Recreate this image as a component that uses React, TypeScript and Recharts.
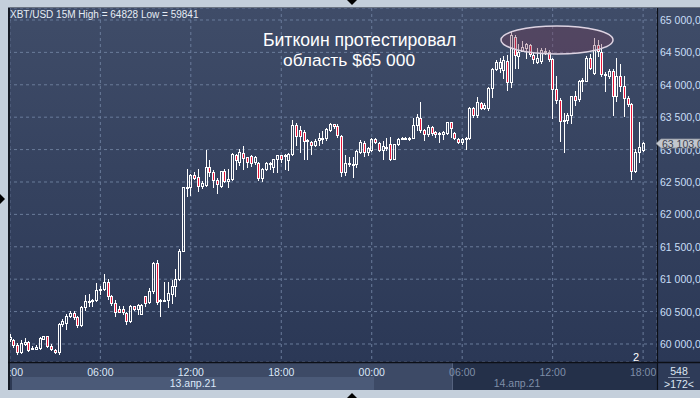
import React from "react";
import { ComposedChart, Bar, XAxis, YAxis, CartesianGrid } from "recharts";

const opens = [
  60070, 60056, 59980, 59870, 60000, 60030, 59930, 59925, 59940, 60080, 60118, 59975, 59910, 59877, 60310, 60325, 60437, 60478, 60410, 60288,
  60565, 60658, 60668, 60678, 60832, 60853, 60950, 60740, 60638, 60545, 60545, 60480, 60350, 60580, 60540, 60470, 60735, 60650, 60822, 61250,
  60660, 60663, 60684, 60776, 60890, 61002, 61440, 62414, 62418, 62615, 62573, 62444, 62454, 62724, 62652, 62537, 62444, 62662, 62522, 62548,
  62922, 62808, 62948, 62886, 62896, 62808, 62798, 62558, 62704, 62780, 62730, 62850, 62912, 62900, 62834, 62938, 63380, 63302, 63276, 63135,
  63120, 63078, 63150, 63160, 63172, 63300, 63390, 63370, 63214, 62652, 62770, 62780, 62783, 62964, 63100, 62970, 62990, 63165, 63100, 63000,
  63030, 63083, 62860, 63083, 63170, 63180, 63186, 63186, 63376, 63495, 63300, 63248, 63350, 63273, 63248, 63248, 63258, 63423, 63258, 63170,
  63120, 63170, 63186, 63635, 63530, 63720, 63635, 63640, 63944, 64238, 64260, 64229, 64368, 64049, 64743, 64443, 64520, 64572, 64610, 64460,
  64355, 64366, 64520, 64510, 64391, 63942, 63771, 63445, 63460, 63540, 63823, 63780, 64055, 64066, 64417, 64185, 64614, 64500, 64150, 64133,
  64210, 63823, 64133, 63978, 63797, 63704, 62670, 62960, 63000,
];
const highs = [
  60150, 60080, 60015, 60067, 60087, 60040, 59975, 59985, 60108, 60130, 60120, 60005, 59925, 60325, 60385, 60460, 60514, 60504, 60427, 60580,
  60755, 60770, 60688, 60940, 60900, 61085, 61005, 60760, 60680, 60585, 60590, 60490, 60600, 60590, 60615, 60610, 60745, 60865, 61270, 61300,
  60690, 60956, 60956, 60992, 61157, 61465, 62430, 62707, 62625, 62655, 62700, 62520, 63000, 62834, 62678, 62560, 62672, 62700, 62700, 62948,
  62938, 63005, 63052, 62886, 62912, 62900, 62808, 62710, 62810, 62808, 62860, 62922, 62922, 62928, 62948, 63458, 63406, 63364, 63302, 63160,
  63130, 63156, 63250, 63290, 63328, 63406, 63400, 63390, 63224, 62912, 62886, 62880, 63000, 63145, 63140, 63040, 63175, 63180, 63110, 63130,
  63185, 63190, 63093, 63186, 63200, 63196, 63196, 63495, 63547, 63738, 63325, 63376, 63360, 63280, 63273, 63284, 63430, 63430, 63273, 63180,
  63186, 63200, 63660, 63660, 63815, 63738, 63712, 63970, 64255, 64380, 64410, 64450, 64460, 64828, 64770, 64624, 64675, 64650, 64624, 64495,
  64562, 64572, 64572, 64531, 64417, 64133, 63797, 63565, 63565, 63830, 63900, 64081, 64107, 64443, 64480, 64727, 64686, 64624, 64200, 64236,
  64236, 64417, 64314, 64133, 63823, 63720, 63010, 63425, 63120,
];
const lows = [
  60050, 59960, 59841, 59860, 59990, 59897, 59925, 59915, 59925, 60070, 59960, 59900, 59860, 59850, 60272, 60236, 60416, 60385, 60262, 60272,
  60530, 60590, 60590, 60668, 60777, 60840, 60700, 60600, 60437, 60487, 60457, 60314, 60335, 60530, 60462, 60460, 60590, 60632, 60785, 60622,
  60427, 60658, 60570, 60632, 60745, 60992, 61430, 62288, 62300, 62553, 62366, 62400, 62444, 62600, 62418, 62330, 62418, 62496, 62418, 62532,
  62700, 62756, 62700, 62730, 62750, 62780, 62538, 62522, 62678, 62704, 62652, 62652, 62808, 62700, 62678, 62922, 63068, 62964, 62860, 62850,
  62938, 63052, 63068, 63094, 63146, 63286, 63340, 63198, 62590, 62603, 62746, 62580, 62730, 62948, 62900, 62910, 62980, 63100, 62975, 62860,
  62990, 62845, 62850, 63067, 63160, 63170, 63150, 63175, 63300, 63273, 63145, 63206, 63222, 63200, 63120, 63170, 63240, 63200, 63170, 63100,
  63093, 63015, 63170, 63505, 63505, 63620, 63620, 63610, 63815, 64228, 64200, 64100, 63920, 63970, 64262, 64262, 64520, 64417, 64443, 64340,
  64340, 64340, 64470, 64366, 63487, 63720, 63125, 62960, 63410, 63410, 63693, 63755, 63900, 64055, 64236, 64170, 64443, 64133, 63900, 64107,
  63528, 63745, 63900, 63513, 63677, 62542, 62660, 62815, 62985,
];
const closes = [
  60110, 59980, 59877, 60015, 60030, 59913, 59935, 59955, 60090, 60118, 59965, 59915, 59877, 60310, 60350, 60437, 60478, 60410, 60288, 60565,
  60658, 60668, 60678, 60838, 60853, 60950, 60740, 60628, 60500, 60500, 60495, 60350, 60580, 60540, 60600, 60600, 60630, 60822, 61250, 60643,
  60680, 60684, 60786, 60890, 61002, 61440, 62418, 62420, 62615, 62563, 62444, 62480, 62724, 62652, 62537, 62470, 62662, 62522, 62548, 62938,
  62834, 62964, 62870, 62808, 62798, 62886, 62558, 62704, 62798, 62798, 62850, 62912, 62850, 62922, 62938, 63380, 63214, 63214, 63130, 63150,
  63078, 63130, 63172, 63172, 63317, 63390, 63364, 63224, 62652, 62790, 62798, 62785, 62979, 63119, 62970, 63030, 63165, 63120, 62990, 63060,
  63035, 62860, 63083, 63170, 63186, 63186, 63160, 63376, 63505, 63300, 63237, 63350, 63258, 63237, 63258, 63273, 63423, 63330, 63186, 63120,
  63170, 63186, 63635, 63530, 63727, 63635, 63686, 63944, 64238, 64357, 64350, 64383, 64049, 64769, 64459, 64510, 64583, 64634, 64470, 64400,
  64417, 64531, 64527, 64391, 63942, 63771, 63445, 63460, 63540, 63823, 63771, 64055, 64081, 64417, 64262, 64614, 64520, 64160, 64170, 64210,
  63823, 64133, 63978, 63797, 63704, 62670, 62970, 63036, 63103,
];

const xTickIndex = [0, 24, 48, 72, 96, 120, 144, 168];
const xTickLabels = ["00:00", "06:00", "12:00", "18:00", "00:00", "06:00", "12:00", "18:00"];
const yTicks = [60000, 60500, 61000, 61500, 62000, 62500, 63000, 63500, 64000, 64500, 65000];
const dateLabels = ["13.апр.21", "14.апр.21"];
const lastPrice = 63103;

const data = opens.map((o, i) => ({ i, open: o, high: highs[i], low: lows[i], close: closes[i] }));

const FONT = "'Liberation Sans', Arial, sans-serif";

const Candle = (props: any) => {
  const { x, y, width, height, payload } = props;
  if (!payload) return null;
  const { open, close, high, low } = payload;
  const yt = Math.min(y, y + height);
  const h = Math.abs(height);
  const ratio = h / (high - low || 1);
  const c = Math.floor(x + width / 2);
  const yOf = (p: number) => yt + (high - p) * ratio;
  const yHigh = Math.round(yt);
  const yLow = Math.round(yt + h);
  const top = Math.round(yOf(Math.max(open, close)));
  const bot = Math.max(Math.round(yOf(Math.min(open, close))), top + 1);
  const up = close >= open;
  return (
    <g>
      <line x1={c + 0.5} x2={c + 0.5} y1={yHigh} y2={top} stroke="#ffffff" strokeWidth={1} />
      <line x1={c + 0.5} x2={c + 0.5} y1={bot + 1} y2={yLow + 1} stroke="#ffffff" strokeWidth={1} />
      <rect x={c - 0.5} y={top + 0.5} width={2} height={bot - top} fill={up ? "none" : "#e8163a"} stroke="#ffffff" strokeWidth={1} />
    </g>
  );
};

const fmtY = (v: number) => `${Math.floor(v / 1000)} ${String(v % 1000).padStart(3, "0")},00`;

const YTick = (props: any) => {
  const { y, payload } = props;
  return (
    <text x={660} y={y + 4} fill="#c9def6" fontSize={10.5} fontFamily={FONT}>
      {fmtY(payload.value)}
    </text>
  );
};

const XTick = (props: any) => {
  const { x, payload } = props;
  const k = xTickIndex.indexOf(payload.value);
  const gray = k >= 5;
  return (
    <text x={x} y={376} textAnchor="middle" fill={gray ? "#7f8ea8" : "#dce8f8"} fontSize={10.5} fontFamily={FONT}>
      {xTickLabels[k]}
    </text>
  );
};

export default function App() {
  return (
    <div style={{ position: "absolute", left: 0, top: 0, width: 700, height: 398, background: "#c4cfdb", overflow: "hidden" }}>
      <svg width={700} height={398} style={{ position: "absolute", left: 0, top: 0 }}>
        <defs>
          <linearGradient id="bg" x1="0" y1="0" x2="0" y2="1">
            <stop offset="0" stopColor="#3f4c68" />
            <stop offset="1" stopColor="#2b3856" />
          </linearGradient>
        </defs>
        <rect x={8} y={8} width={692} height={354} fill="url(#bg)" />
        <rect x={8} y={362} width={444} height={15} fill="#3d4a66" />
        <rect x={452} y={362} width={205} height={28} fill="#243049" />
        <rect x={657} y={362} width={43} height={28} fill="#2e3b58" />
        <rect x={8} y={377} width={4} height={13} fill="#2d3953" />
        <rect x={12} y={377} width={362} height={13} fill="#4b5a78" />
        <rect x={374} y={377} width={78} height={13} fill="#3d4a66" />
        <line x1={452.5} x2={452.5} y1={363} y2={390} stroke="#55627e" />
      </svg>
      <div style={{ position: "absolute", left: 0, top: 0 }}>
        <ComposedChart width={700} height={398} data={data} margin={{ top: 8, right: 0, bottom: 0, left: 8 }} barCategoryGap={0}>
          <CartesianGrid stroke="#6a7b9a" strokeDasharray="3 3" />
          <XAxis
            dataKey="i"
            ticks={xTickIndex}
            interval={0}
            axisLine={false}
            tickLine={false}
            height={36}
            padding={{ left: 0, right: 12 }}
            tick={<XTick />}
          />
          <YAxis
            orientation="right"
            domain={[59722, 65185]}
            ticks={yTicks}
            allowDataOverflow
            axisLine={false}
            tickLine={false}
            width={43}
            tick={<YTick />}
          />
          <Bar dataKey={(d: any) => [d.low, d.high]} shape={<Candle />} isAnimationActive={false} />
        </ComposedChart>
      </div>
      <svg width={700} height={398} style={{ position: "absolute", left: 0, top: 0, pointerEvents: "none" }}>
        <ellipse cx={557} cy={40} rx={56} ry={14} fill="rgb(120,60,90)" fillOpacity={0.36} stroke="#ddd3e2" strokeWidth={1.5} />
        <rect x={0} y={0} width={700} height={8} fill="#c4cfdb" />
        <rect x={0} y={0} width={8} height={398} fill="#c4cfdb" />
        <rect x={0} y={390} width={700} height={8} fill="#c4cfdb" />
        <line x1={8} x2={700} y1={7.5} y2={7.5} stroke="#6b7482" />
        <rect x={8} y={8} width={2} height={382} fill="#151a24" />
        <line x1={8} x2={700} y1={362.5} y2={362.5} stroke="#0c0f16" strokeWidth={1.5} />
        <line x1={657.5} x2={657.5} y1={8} y2={390} stroke="#0c0f16" strokeWidth={1.2} />
        <text x={10} y={18} fill="#e6ecf4" fontSize={10} fontFamily={FONT}>XBT/USD 15M High = 64828 Low = 59841</text>
        <text x={263} y={46} fill="#ffffff" fontSize={17.6} fontFamily={FONT}>Биткоин протестировал</text>
        <text x={283} y={66} fill="#ffffff" fontSize={17.4} fontFamily={FONT}>область $65 000</text>
        <text x={193} y={387} textAnchor="middle" fill="#dce8f8" fontSize={10.5} fontFamily={FONT}>{dateLabels[0]}</text>
        <text x={517} y={387} textAnchor="middle" fill="#7f8ea8" fontSize={10.5} fontFamily={FONT}>{dateLabels[1]}</text>
        <text x={636} y={361} textAnchor="middle" fill="#ffffff" fontSize={11} fontFamily={FONT}>2</text>
        <text x={679} y={375} textAnchor="middle" fill="#dde6f2" fontSize={10.5} fontFamily={FONT}>548</text>
        <line x1={668} x2={690} y1={377.5} y2={377.5} stroke="#8896ae" />
        <text x={679} y={388} textAnchor="middle" fill="#dde6f2" fontSize={10.5} fontFamily={FONT}>{">172<"}</text>
        <polygon points="656,143.5 661,139 700,139 700,148 661,148" fill="#c3c7ce" stroke="#8a909a" strokeWidth={0.8} />
        <text x={662} y={147.5} fill="#3a4150" fontSize={10.5} fontFamily={FONT}>{fmtY(lastPrice).slice(0, 8).replace(",00", ",0")}</text>
        <polygon points="347,0 357,0 352,5" fill="#000" />
        <polygon points="347,398 357,398 352,393" fill="#000" />
        <polygon points="0,194 0,204 5,199" fill="#000" />
      </svg>
    </div>
  );
}
